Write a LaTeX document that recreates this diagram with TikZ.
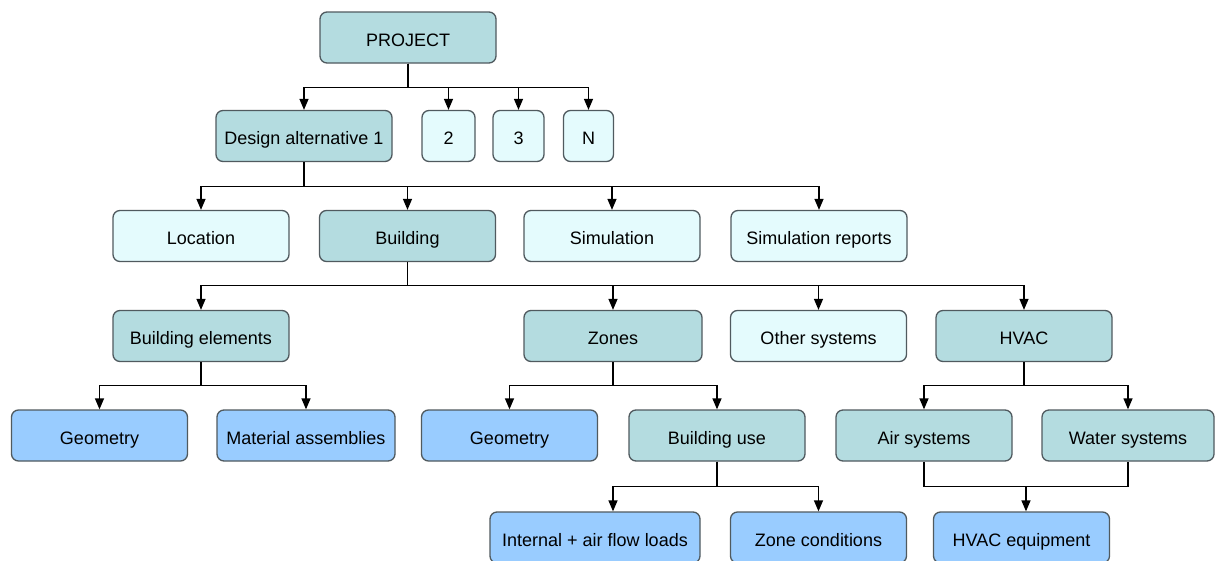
\documentclass[tikz,border=0pt]{standalone}
\usepackage{fontspec}
\setmainfont{Liberation Sans}
\usetikzlibrary{arrows.meta,calc}
\definecolor{tealdark}{RGB}{180,220,224}
\definecolor{teallight}{RGB}{228,251,253}
\definecolor{leafblue}{RGB}{153,204,255}
\definecolor{boxline}{RGB}{80,90,95}

\begin{document}
\begin{tikzpicture}[x=1pt,y=-1pt,
	box/.style={draw=boxline, line width=1.3pt, rounded corners=7pt, minimum height=51pt, minimum width=176pt, inner sep=0pt, text height=17pt, text depth=0pt, font=\fontsize{18}{21}\selectfont},
	dark/.style={box, fill=tealdark},
	light/.style={box, fill=teallight},
	leaf/.style={box, fill=leafblue},
	link/.style={line width=1.3pt},
	arr/.style={link, -{Triangle[length=11pt,width=9pt]}}]
		%%%%% START %%%%%
		\fill[white] (0,0) rectangle (1215,560);
		\useasboundingbox (0,0) rectangle (1215,560);
		
		% project and its alternatives
		\node[dark] (project) at (408,37.5) {PROJECT};
		\node[dark] (alt1) at (304,136) {Design alternative 1};
		\node[light, minimum width=53pt] (alt2) at (448.5,136) {2};
		\node[light, minimum width=51pt] (alt3) at (518.5,136) {3};
		\node[light, minimum width=50pt] (altN) at (588.5,136) {N};
		
		% first design alternative
		\node[light] (location) at (201,236) {Location};
		\node[dark] (building) at (407.5,236) {Building};
		\node[light] (simulation) at (612,236) {Simulation};
		\node[light] (reports) at (819,236) {Simulation reports};
		
		% building
		\node[dark] (elements) at (201,336) {Building elements};
		\node[dark, minimum width=178pt] (zones) at (613,336) {Zones};
		\node[light] (other) at (818.5,336) {Other systems};
		\node[dark] (hvac) at (1024,336) {HVAC};
		
		\node[leaf] (geom1) at (99.5,435.5) {Geometry};
		\node[leaf, minimum width=178pt] (material) at (306,435.5) {Material assemblies};
		\node[leaf] (geom2) at (509.5,435.5) {Geometry};
		\node[dark] (use) at (717,435.5) {Building use};
		\node[dark] (air) at (924,435.5) {Air systems};
		\node[dark, minimum width=172pt] (water) at (1128,435.5) {Water systems};
		
		\node[leaf, minimum width=210pt] (internal) at (595,537.5) {Internal + air flow loads};
		\node[leaf] (zonecond) at (818.5,537.5) {Zone conditions};
		\node[leaf] (equipment) at (1021.5,537.5) {HVAC equipment};
		
		% tree connectors
		\foreach \c in {alt1,alt2,alt3,altN}
			\draw[arr] (project.south) -- ++(0,24) -| (\c.north);
		\foreach \c in {location,building,simulation,reports}
			\draw[arr] (alt1.south) -- ++(0,24) -| (\c.north);
		\foreach \c in {elements,zones,other,hvac}
			\draw[arr] (building.south) -- ++(0,23) -| (\c.north);
		\foreach \c in {geom1,material}
			\draw[arr] (elements.south) -- ++(0,23) -| (\c.north);
		\foreach \c in {geom2,use}
			\draw[arr] (zones.south) -- ++(0,23) -| (\c.north);
		\foreach \c in {air,water}
			\draw[arr] (hvac.south) -- ++(0,23) -| (\c.north);
		
		\draw[arr] (use.south) -- ++(0,25) -| ([xshift=18pt]internal.north);
		\draw[arr] (use.south) -- ++(0,25) -| (zonecond.north);
		
		% both HVAC systems feed the equipment
		\draw[link] (air.south) -- ++(0,25) -| (water.south);
		\coordinate (join) at ($(air.south)!0.5!(water.south)+(0,25)$);
		\draw[arr] (join) -- (join |- equipment.north);
		%%%%% END %%%%%
\end{tikzpicture}
\end{document}
